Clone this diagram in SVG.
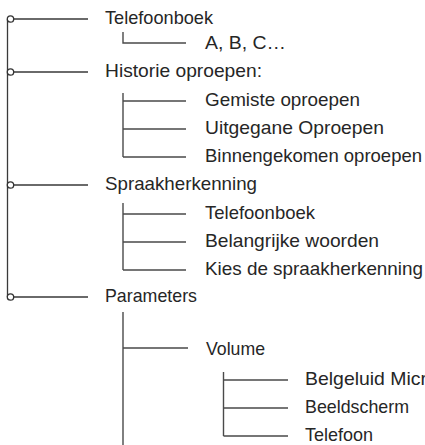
<svg xmlns="http://www.w3.org/2000/svg" width="425" height="445" viewBox="0 0 425 445">
<style>
text{font-family:"Liberation Sans",Arial,sans-serif;font-size:18.5px;fill:#262626}
.ln{stroke:#3a3a3a;stroke-width:1.3;fill:none}
.sl{stroke:#4a4a4a;stroke-width:1.4;fill:none}
.dot{fill:#fff;stroke:#333;stroke-width:1.3}
</style>
<rect width="425" height="445" fill="#fff"/>
<g id="connectors">
<path class="ln" d="M7.5 19V297"/>
<path class="ln" d="M14 19H88M14 72H88M14 185H88M14 297H88"/>
<path class="sl" d="M123 32V43H186"/>
<path class="sl" d="M123 93V157M123 101H186M123 129H186M123 157H186"/>
<path class="sl" d="M123 203V270M123 214H186M123 242H186M123 270H186"/>
<path class="sl" d="M123 312V445M123 348H188"/>
<path class="sl" d="M223.5 372V436M223.5 380H288M223.5 408H288M223.5 436H288"/>
<circle class="dot" cx="10.5" cy="19" r="3.2"/>
<circle class="dot" cx="10.5" cy="72" r="3.2"/>
<circle class="dot" cx="10.5" cy="185" r="3.2"/>
<circle class="dot" cx="10.5" cy="297" r="3.2"/>
</g>
<g id="n-telefoonboek"><text x="105" y="24" textLength="108" lengthAdjust="spacingAndGlyphs">Telefoonboek</text></g>
<g id="n-abc"><text x="205" y="49" textLength="81" lengthAdjust="spacingAndGlyphs">A, B, C…</text></g>
<g id="n-historie"><text x="105" y="77" textLength="157" lengthAdjust="spacingAndGlyphs">Historie oproepen:</text></g>
<g id="n-gemiste"><text x="205" y="106" textLength="155" lengthAdjust="spacingAndGlyphs">Gemiste oproepen</text></g>
<g id="n-uitgegane"><text x="205" y="134" textLength="179" lengthAdjust="spacingAndGlyphs">Uitgegane Oproepen</text></g>
<g id="n-binnengekomen"><text x="205" y="162" textLength="217" lengthAdjust="spacingAndGlyphs">Binnengekomen oproepen</text></g>
<g id="n-spraak"><text x="105" y="190" textLength="152" lengthAdjust="spacingAndGlyphs">Spraakherkenning</text></g>
<g id="n-telefoonboek2"><text x="205" y="219" textLength="110" lengthAdjust="spacingAndGlyphs">Telefoonboek</text></g>
<g id="n-belangrijke"><text x="205" y="247" textLength="174" lengthAdjust="spacingAndGlyphs">Belangrijke woorden</text></g>
<g id="n-kies"><text x="205" y="275" textLength="218" lengthAdjust="spacingAndGlyphs">Kies de spraakherkenning</text></g>
<g id="n-parameters"><text x="105" y="302" textLength="92" lengthAdjust="spacingAndGlyphs">Parameters</text></g>
<g id="n-volume"><text x="206" y="355" textLength="59" lengthAdjust="spacingAndGlyphs">Volume</text></g>
<g id="n-belgeluid"><text x="305" y="385" textLength="122" lengthAdjust="spacingAndGlyphs">Belgeluid Micr</text></g>
<g id="n-beeldscherm"><text x="305" y="413" textLength="104" lengthAdjust="spacingAndGlyphs">Beeldscherm</text></g>
<g id="n-telefoon"><text x="305" y="441" textLength="68" lengthAdjust="spacingAndGlyphs">Telefoon</text></g>
</svg>
